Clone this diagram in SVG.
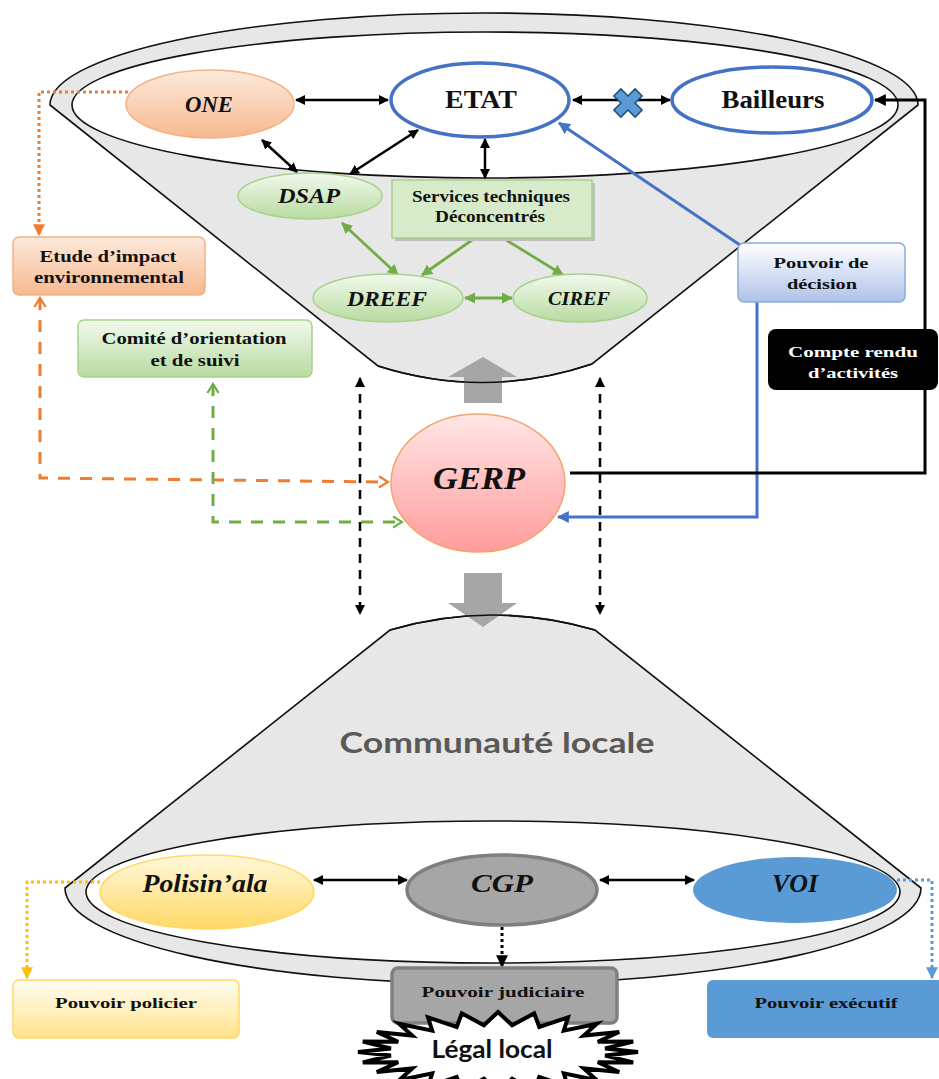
<svg xmlns="http://www.w3.org/2000/svg" width="939" height="1079" viewBox="0 0 939 1079">
<style>
.lbl{font-family:"Liberation Serif","Times New Roman",serif;font-weight:bold;fill:#111;text-anchor:middle}
.it{font-style:italic}
.cal{font-family:Lato,"Open Sans","Liberation Sans",sans-serif;font-weight:bold;text-anchor:middle}
.fun{fill:#e7e7e7;stroke:#111;stroke-width:1.6}
.inner{fill:#fff;stroke:#111;stroke-width:1.6}
.blk{fill:none;stroke:#000;stroke-width:2.5}
.grn{fill:none;stroke:#70ad47;stroke-width:2.8}
.blu{fill:none;stroke:#4472c4;stroke-width:3}
.dash{stroke-dasharray:9,7}
</style>
<defs>
<marker id="mB" viewBox="0 0 10 10" refX="9" refY="5" markerWidth="4" markerHeight="4" orient="auto-start-reverse"><path d="M0,0 L10,5 L0,10 z" fill="#000"/></marker>
<marker id="mG" viewBox="0 0 10 10" refX="9" refY="5" markerWidth="4" markerHeight="4" orient="auto-start-reverse"><path d="M0,0 L10,5 L0,10 z" fill="#70ad47"/></marker>
<marker id="mBl" viewBox="0 0 10 10" refX="9" refY="5" markerWidth="4" markerHeight="4" orient="auto-start-reverse"><path d="M0,0 L10,5 L0,10 z" fill="#4472c4"/></marker>
<marker id="mO" viewBox="0 0 10 10" refX="9" refY="5" markerWidth="4" markerHeight="4" orient="auto-start-reverse"><path d="M0,0 L10,5 L0,10 z" fill="#ed7d31"/></marker>
<marker id="mY" viewBox="0 0 10 10" refX="9" refY="5" markerWidth="4" markerHeight="4" orient="auto-start-reverse"><path d="M0,0 L10,5 L0,10 z" fill="#ffc000"/></marker>
<marker id="mLB" viewBox="0 0 10 10" refX="9" refY="5" markerWidth="4" markerHeight="4" orient="auto-start-reverse"><path d="M0,0 L10,5 L0,10 z" fill="#5b9bd5"/></marker>
<marker id="cO" viewBox="0 0 12 12" refX="10" refY="6" markerWidth="4.5" markerHeight="4.5" orient="auto-start-reverse"><path d="M2,1 L10,6 L2,11" fill="none" stroke="#ed7d31" stroke-width="2"/></marker>
<marker id="cG" viewBox="0 0 12 12" refX="10" refY="6" markerWidth="4.5" markerHeight="4.5" orient="auto-start-reverse"><path d="M2,1 L10,6 L2,11" fill="none" stroke="#70ad47" stroke-width="2"/></marker>
<linearGradient id="gPeach" x1="0" y1="0" x2="0" y2="1"><stop offset="0" stop-color="#fdeadc"/><stop offset="1" stop-color="#f6b98f"/></linearGradient>
<linearGradient id="gGreen" x1="0" y1="0" x2="0" y2="1"><stop offset="0" stop-color="#f2f9ed"/><stop offset="1" stop-color="#b7dba0"/></linearGradient>
<linearGradient id="gPink" x1="0" y1="0" x2="0" y2="1"><stop offset="0" stop-color="#ffe6e6"/><stop offset="1" stop-color="#ff9c9c"/></linearGradient>
<linearGradient id="gYel" x1="0" y1="0" x2="0" y2="1"><stop offset="0" stop-color="#fff8dc"/><stop offset="1" stop-color="#ffd966"/></linearGradient>
<linearGradient id="gYelBox" x1="0" y1="0" x2="0" y2="1"><stop offset="0" stop-color="#fffdf3"/><stop offset="1" stop-color="#ffe38a"/></linearGradient>
<linearGradient id="gBlue" x1="0" y1="0" x2="0" y2="1"><stop offset="0" stop-color="#ffffff"/><stop offset="1" stop-color="#aec3e8"/></linearGradient>
</defs>

<!-- funnels -->
<g id="funnel-top">
<path class="fun" d="M50,105 A434,92 0 0 1 918,105 L592,364 Q485,400 378,366 Z"/>
<ellipse class="inner" cx="485" cy="105" rx="413" ry="73"/>
</g>
<g id="funnel-bottom">
<path class="fun" d="M65,888 L390,630 Q492,600 595,630 L921,888 A428,96 0 0 1 65,888 Z"/>
<ellipse class="inner" cx="493" cy="892" rx="407" ry="71"/>
<text class="cal" x="497" y="753" font-size="28" fill="#595959" textLength="315" lengthAdjust="spacingAndGlyphs">Communauté locale</text>
</g>
<g id="flow-arrows" fill="#a6a6a6">
<path d="M464,403 L464,377 L448,377 L483,357 L517,377 L502,377 L502,403 Z"/>
<path d="M464,573 L502,573 L502,603 L517,603 L483,627 L448,603 L464,603 Z"/>
</g>
<g fill="none" stroke="#111" stroke-width="1.6">
<path d="M592,364 Q485,400 378,366"/>
<path d="M390,630 Q492,600 595,630"/>
</g>

<!-- connectors -->
<g id="connectors">
<path class="blk" d="M296,100 L388,100" marker-start="url(#mB)" marker-end="url(#mB)"/>
<path class="blk" d="M573,100 L670,100" marker-start="url(#mB)" marker-end="url(#mB)"/>
<path class="blk" d="M262,140 L297,172" marker-start="url(#mB)" marker-end="url(#mB)"/>
<path class="blk" d="M350,174 L418,130" marker-start="url(#mB)" marker-end="url(#mB)"/>
<path class="blk" d="M485,139 L485,178" marker-start="url(#mB)" marker-end="url(#mB)"/>
<path class="grn" d="M342,223 L398,275" marker-start="url(#mG)" marker-end="url(#mG)"/>
<path class="grn" d="M475,238 L422,275" marker-end="url(#mG)"/>
<path class="grn" d="M503,238 L563,275" marker-end="url(#mG)"/>
<path class="grn" d="M465,298 L512,298" marker-start="url(#mG)" marker-end="url(#mG)"/>
<path class="blu" d="M740,245 L559,123" marker-end="url(#mBl)"/>
<path class="blu" d="M757,302 L757,517 L558,517" marker-end="url(#mBl)"/>
<path fill="none" stroke="#000" stroke-width="3" d="M570,473 L925,473 L925,100 L875,100" marker-end="url(#mB)"/>
<path fill="none" stroke="#ed7d31" stroke-width="3" stroke-dasharray="3,3" d="M128,92 L39,92 L39,235" marker-end="url(#mO)"/>
<path fill="none" stroke="#ed7d31" stroke-width="3" stroke-dasharray="12,10" d="M40,298 L40,478 L388,482" marker-start="url(#cO)" marker-end="url(#cO)"/>
<path fill="none" stroke="#70ad47" stroke-width="3" stroke-dasharray="12,10" d="M213,384 L213,522 L402,522" marker-start="url(#cG)" marker-end="url(#cG)"/>
<path class="blk dash" d="M360,378 L360,614" marker-start="url(#mB)" marker-end="url(#mB)"/>
<path class="blk dash" d="M600,378 L600,614" marker-start="url(#mB)" marker-end="url(#mB)"/>
<path class="blk" d="M314,880 L407,880" marker-start="url(#mB)" marker-end="url(#mB)"/>
<path class="blk" d="M600,880 L694,880" marker-start="url(#mB)" marker-end="url(#mB)"/>
<path fill="none" stroke="#000" stroke-width="3" stroke-dasharray="3,3" d="M502,927 L502,966" marker-end="url(#mB)"/>
<path fill="none" stroke="#ffc000" stroke-width="3" stroke-dasharray="3,3" d="M100,882 L27,882 L27,978" marker-end="url(#mY)"/>
<path fill="none" stroke="#5b9bd5" stroke-width="3" stroke-dasharray="3,3" d="M897,880 L932,880 L932,978" marker-end="url(#mLB)"/>
<path fill="#5b9bd5" stroke="#1f4e79" stroke-width="1.5" transform="translate(628,103) rotate(45)" d="M-5,-15 L5,-15 L5,-5 L15,-5 L15,5 L5,5 L5,15 L-5,15 L-5,5 L-15,5 L-15,-5 L-5,-5 Z"/>
</g>

<!-- nodes -->
<g id="ONE"><ellipse cx="210" cy="104" rx="84" ry="34" fill="url(#gPeach)" stroke="#f4b183" stroke-width="1.5"/><text class="lbl it" x="209" y="112" font-size="23" textLength="48" lengthAdjust="spacingAndGlyphs">ONE</text></g>
<g id="ETAT"><ellipse cx="480" cy="100" rx="89" ry="37" fill="#fff" stroke="#4472c4" stroke-width="3.5"/><text class="lbl" x="481" y="108" font-size="25" textLength="72" lengthAdjust="spacingAndGlyphs">ETAT</text></g>
<g id="Bailleurs"><ellipse cx="772" cy="100" rx="100" ry="33" fill="#fff" stroke="#4472c4" stroke-width="3.5"/><text class="lbl" x="773" y="108" font-size="25" textLength="103" lengthAdjust="spacingAndGlyphs">Bailleurs</text></g>
<g id="DSAP"><ellipse cx="310" cy="196" rx="72" ry="23" fill="url(#gGreen)" stroke="#a9d18e" stroke-width="1.5"/><text class="lbl it" x="309" y="203" font-size="21" textLength="62" lengthAdjust="spacingAndGlyphs">DSAP</text></g>
<g id="Services"><rect x="395" y="183" width="200" height="58" fill="#bfbfbf"/><rect x="392" y="180" width="200" height="58" fill="#d7ebca" stroke="#a9d18e" stroke-width="1.5"/><text class="lbl" x="491" y="202" font-size="16" textLength="158" lengthAdjust="spacingAndGlyphs">Services techniques</text><text class="lbl" x="490" y="222" font-size="16" textLength="110" lengthAdjust="spacingAndGlyphs">Déconcentrés</text></g>
<g id="DREEF"><ellipse cx="388" cy="298" rx="75" ry="24" fill="url(#gGreen)" stroke="#a9d18e" stroke-width="1.5"/><text class="lbl it" x="387" y="306" font-size="21" textLength="80" lengthAdjust="spacingAndGlyphs">DREEF</text></g>
<g id="CIREF"><ellipse cx="580" cy="298" rx="67" ry="24" fill="url(#gGreen)" stroke="#a9d18e" stroke-width="1.5"/><text class="lbl it" x="579" y="305" font-size="19" textLength="62" lengthAdjust="spacingAndGlyphs">CIREF</text></g>
<g id="Pouvoir-decision"><rect x="738" y="243" width="167" height="59" rx="6" fill="url(#gBlue)" stroke="#8faadc" stroke-width="1.5"/><text class="lbl" x="821" y="268" font-size="15" textLength="95" lengthAdjust="spacingAndGlyphs">Pouvoir de</text><text class="lbl" x="822" y="289" font-size="15" textLength="70" lengthAdjust="spacingAndGlyphs">décision</text></g>
<g id="Compte-rendu"><rect x="768" y="329" width="170" height="61" rx="8" fill="#000"/><text class="lbl" x="853" y="357" font-size="15" fill="#fff" style="fill:#fff" textLength="130" lengthAdjust="spacingAndGlyphs">Compte rendu</text><text class="lbl" x="853" y="378" font-size="15" style="fill:#fff" textLength="90" lengthAdjust="spacingAndGlyphs">d’activités</text></g>
<g id="Etude"><rect x="13" y="237" width="192" height="58" rx="6" fill="url(#gPeach)" stroke="#f4b183" stroke-width="1.5"/><text class="lbl" x="108" y="262" font-size="16" textLength="137" lengthAdjust="spacingAndGlyphs">Etude d’impact</text><text class="lbl" x="109" y="283" font-size="16" textLength="150" lengthAdjust="spacingAndGlyphs">environnemental</text></g>
<g id="Comite"><rect x="78" y="320" width="234" height="57" rx="6" fill="url(#gGreen)" stroke="#a9d18e" stroke-width="1.5"/><text class="lbl" x="194" y="344" font-size="16" textLength="185" lengthAdjust="spacingAndGlyphs">Comité d’orientation</text><text class="lbl" x="195" y="366" font-size="16" textLength="89" lengthAdjust="spacingAndGlyphs">et de suivi</text></g>
<g id="GERP"><ellipse cx="478" cy="483" rx="87" ry="69" fill="url(#gPink)" stroke="#f4a46a" stroke-width="1.5"/><text class="lbl it" x="479" y="489" font-size="32" textLength="92" lengthAdjust="spacingAndGlyphs">GERP</text></g>
<g id="Polisinala"><ellipse cx="207" cy="892" rx="107" ry="37" fill="url(#gYel)" stroke="#ffd966" stroke-width="1.5"/><text class="lbl it" x="205" y="892" font-size="25" textLength="125" lengthAdjust="spacingAndGlyphs">Polisin’ala</text></g>
<g id="CGP"><ellipse cx="502" cy="890" rx="95" ry="35" fill="#a6a6a6" stroke="#7f7f7f" stroke-width="3.5"/><text class="lbl it" x="502" y="892" font-size="25" textLength="62" lengthAdjust="spacingAndGlyphs">CGP</text></g>
<g id="VOI"><ellipse cx="795" cy="890" rx="102" ry="33" fill="#5b9bd5"/><text class="lbl it" x="795" y="892" font-size="25" fill="#1a1a2e" textLength="46" lengthAdjust="spacingAndGlyphs">VOI</text></g>
<g id="Pouvoir-policier"><rect x="13" y="980" width="226" height="58" rx="6" fill="url(#gYelBox)" stroke="#ffd966" stroke-width="1.5"/><text class="lbl" x="126" y="1008" font-size="15" textLength="142" lengthAdjust="spacingAndGlyphs">Pouvoir policier</text></g>
<g id="Pouvoir-judiciaire"><rect x="392" y="968" width="225" height="55" rx="6" fill="#a6a6a6" stroke="#7f7f7f" stroke-width="3.5"/><text class="lbl" x="503" y="997" font-size="15" textLength="163" lengthAdjust="spacingAndGlyphs">Pouvoir judiciaire</text></g>
<g id="Pouvoir-executif"><rect x="707" y="980" width="240" height="58" rx="6" fill="#5b9bd5"/><text class="lbl" x="826" y="1008" font-size="15" fill="#1a1a2e" textLength="143" lengthAdjust="spacingAndGlyphs">Pouvoir exécutif</text></g>
<g id="Legal-local"><polygon fill="#fff" stroke="#000" stroke-width="4" stroke-linejoin="miter" points="638,1052 605.1,1055.5 633.2,1062.4 597.8,1062.3 619.2,1072 583.7,1068.4 597,1080.3 563.8,1073.4 568,1086.6 539.3,1077 534.2,1090.6 512.1,1078.8 498,1092 483.9,1078.8 461.8,1090.6 456.7,1077 428,1086.6 432.2,1073.4 399,1080.3 412.3,1068.4 376.8,1072 398.2,1062.3 362.8,1062.4 390.9,1055.5 358,1052 390.9,1048.5 362.8,1041.6 398.2,1041.7 376.8,1032 412.3,1035.6 399,1023.7 432.2,1030.6 428,1017.4 456.7,1027 461.8,1013.4 483.9,1025.2 498,1012 512.1,1025.2 534.2,1013.4 539.3,1027 568,1017.4 563.8,1030.6 597,1023.7 583.7,1035.6 619.2,1032 597.8,1041.7 633.2,1041.6 605.1,1048.5"/><text class="cal" x="492" y="1058" font-size="25" fill="#111" textLength="121" lengthAdjust="spacingAndGlyphs">Légal local</text></g>
</svg>
